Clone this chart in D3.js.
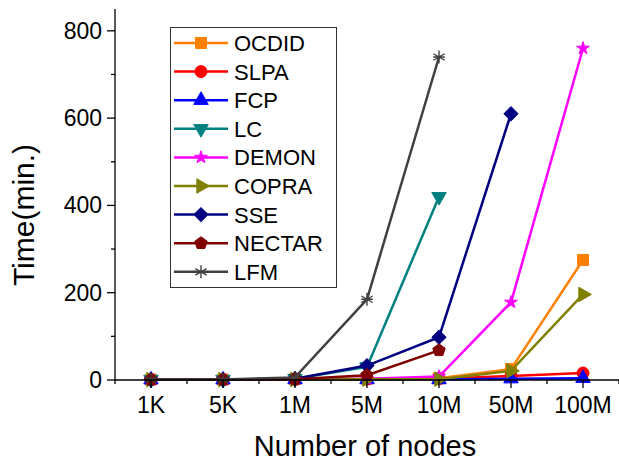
<!DOCTYPE html>
<html>
<head>
<meta charset="utf-8">
<script src="https://cdn.jsdelivr.net/npm/d3@7"></script>
<style>
  body { margin: 0; background: #fff; }
  text { font-family: "Liberation Sans", Arial, sans-serif; fill: #000; }
</style>
</head>
<body>
<div id="chart"></div>
<script>
// categories on the x axis
const nodeLabels = ['1K', '5K', '1M', '5M', '10M', '50M', '100M'];
const yTicks = [0, 200, 400, 600, 800];

// run time (minutes) per method, one value per node count
const ocdid = [1, 1, 2, 3, 4, 25, 275];
const slpa = [1, 1, 1, 2, 3, 9, 16];
const fcp = [0.5, 0.5, 1, 1, 1, 3, 4];
const lc = [1, 1, 3, 30, 420];
const demon = [1, 1, 2, 3, 8, 178, 760];
const copra = [1, 1, 1, 2, 2, 21, 196];
const sse = [1, 1, 3, 33, 98, 610];
const nectar = [1, 1, 2, 11, 68];
const lfm = [1, 1, 6, 185, 740];

const seriesNames = ['OCDID', 'SLPA', 'FCP', 'LC', 'DEMON', 'COPRA', 'SSE', 'NECTAR', 'LFM'];
const seriesValues = [ocdid, slpa, fcp, lc, demon, copra, sse, nectar, lfm];
const seriesColors = ['#ff8000', '#ff0000', '#0000ff', '#008080', '#ff00ff', '#808000', '#000080', '#800000', '#404040'];

const width = 619;
const height = 462;

const svg = d3.select('#chart')
  .append('svg')
  .attr('width', width)
  .attr('height', height);

const xScale = d3.scaleLinear()
  .domain([0.5, nodeLabels.length + 0.5])
  .range([115, 619]);

const yScale = d3.scaleLinear()
  .domain([0, 850])
  .range([380, 9]);

// marker shapes
function markerPath(kind, s) {
  const p = d3.path();
  if (kind === 'square') {
    p.rect(-s / 2, -s / 2, s, s);
    return p.toString();
  }
  if (kind === 'circle') {
    p.arc(0, 0, s / 2 + 0.5, 0, 2 * Math.PI);
    return p.toString();
  }
  if (kind === 'pentagon') {
    const r = s / 2 + 1;
    for (let i = 0; i < 5; i++) {
      const a = -Math.PI / 2 + i * 2 * Math.PI / 5;
      if (i === 0) p.moveTo(r * Math.cos(a), r * Math.sin(a));
      else p.lineTo(r * Math.cos(a), r * Math.sin(a));
    }
    p.closePath();
    return p.toString();
  }
  if (kind === 'asterisk') {
    const r = s / 2 + 1;
    for (let i = 0; i < 3; i++) {
      const a = -Math.PI / 2 + i * Math.PI / 3;
      p.moveTo(r * Math.cos(a), r * Math.sin(a));
      p.lineTo(-r * Math.cos(a), -r * Math.sin(a));
    }
    p.moveTo(-r * 0.9, 0);
    p.lineTo(r * 0.9, 0);
    return p.toString();
  }
  if (kind === 'star') return d3.symbol(d3.symbolStar, s * s * 0.42)();
  if (kind === 'diamond') return d3.symbol(d3.symbolSquare, s * s * 0.8)();
  return d3.symbol(d3.symbolTriangle, s * s * 0.75)();
}

const markerKinds = ['square', 'circle', 'up', 'down', 'star', 'right', 'diamond', 'pentagon', 'asterisk'];
const markerRotate = { up: 0, down: 180, right: 90, diamond: 45 };

function drawMarker(g, kind, color, x, y, s) {
  const m = g.append('path')
    .attr('d', markerPath(kind, s))
    .attr('transform', `translate(${x},${y}) rotate(${markerRotate[kind] || 0})`);
  if (kind === 'asterisk') {
    m.attr('fill', 'none').attr('stroke', color).attr('stroke-width', 1.4);
  } else {
    m.attr('fill', color).attr('stroke', color).attr('stroke-width', 1);
  }
}

const line = d3.line()
  .x((d, i) => xScale(i + 1))
  .y(d => yScale(d));

const plot = svg.append('g');

seriesValues.forEach((vals, k) => {
  plot.append('path')
    .datum(vals)
    .attr('fill', 'none')
    .attr('stroke', seriesColors[k])
    .attr('stroke-width', 2.5)
    .attr('d', line);
  vals.forEach((v, i) => {
    drawMarker(plot, markerKinds[k], seriesColors[k], xScale(i + 1), yScale(v), 11);
  });
});

// axes
const xAxis = svg.append('g')
  .attr('transform', `translate(0,${yScale(0)})`);
xAxis.append('line')
  .attr('x1', xScale(0.5)).attr('x2', xScale(7.5))
  .attr('stroke', '#000').attr('stroke-width', 1.3);
xAxis.selectAll('.major')
  .data(nodeLabels)
  .enter()
  .append('line')
  .attr('x1', (d, i) => xScale(i + 1)).attr('x2', (d, i) => xScale(i + 1))
  .attr('y1', 0).attr('y2', 8)
  .attr('stroke', '#000').attr('stroke-width', 1.3);
xAxis.selectAll('.minor')
  .data(d3.range(0.5, nodeLabels.length + 1, 1))
  .enter()
  .append('line')
  .attr('x1', d => xScale(d)).attr('x2', d => xScale(d))
  .attr('y1', 0).attr('y2', 4)
  .attr('stroke', '#000').attr('stroke-width', 1.3);
xAxis.selectAll('.lbl')
  .data(nodeLabels)
  .enter()
  .append('text')
  .attr('x', (d, i) => xScale(i + 1))
  .attr('y', 33)
  .attr('text-anchor', 'middle')
  .style('font-size', '23px')
  .text(d => d);

const yAxis = svg.append('g')
  .attr('transform', `translate(${xScale(0.5)},0)`);
yAxis.append('line')
  .attr('y1', yScale(0)).attr('y2', yScale(850))
  .attr('stroke', '#000').attr('stroke-width', 1.3);
yAxis.selectAll('.minor')
  .data(d3.range(100, 900, 200))
  .enter()
  .append('line')
  .attr('y1', d => yScale(d)).attr('y2', d => yScale(d))
  .attr('x1', 0).attr('x2', -4)
  .attr('stroke', '#000').attr('stroke-width', 1.3);
yAxis.selectAll('.major')
  .data(yTicks)
  .enter()
  .append('line')
  .attr('y1', d => yScale(d)).attr('y2', d => yScale(d))
  .attr('x1', 0).attr('x2', -8)
  .attr('stroke', '#000').attr('stroke-width', 1.3);
yAxis.selectAll('.lbl')
  .data(yTicks)
  .enter()
  .append('text')
  .attr('x', -13)
  .attr('y', d => yScale(d) + 8)
  .attr('text-anchor', 'end')
  .style('font-size', '23px')
  .text(d => d);

svg.append('text')
  .attr('x', 365)
  .attr('y', 456)
  .attr('text-anchor', 'middle')
  .style('font-size', '29px')
  .text('Number of nodes');

svg.append('text')
  .attr('transform', 'translate(34,215) rotate(-90)')
  .attr('text-anchor', 'middle')
  .style('font-size', '30px')
  .text('Time(min.)');

// legend
const legend = svg.append('g');
legend.append('rect')
  .attr('x', 170.5).attr('y', 27.5)
  .attr('width', 166).attr('height', 260)
  .attr('fill', '#fff').attr('stroke', '#333').attr('stroke-width', 1);

seriesNames.forEach((name, k) => {
  const y = 43 + k * 28.6;
  legend.append('line')
    .attr('x1', 174).attr('x2', 228)
    .attr('y1', y).attr('y2', y)
    .attr('stroke', seriesColors[k]).attr('stroke-width', 2.5);
  drawMarker(legend, markerKinds[k], seriesColors[k], 201, y, 11);
  legend.append('text')
    .attr('x', 234)
    .attr('y', y + 8)
    .style('font-size', '22px')
    .text(name);
});
</script>
</body>
</html>
